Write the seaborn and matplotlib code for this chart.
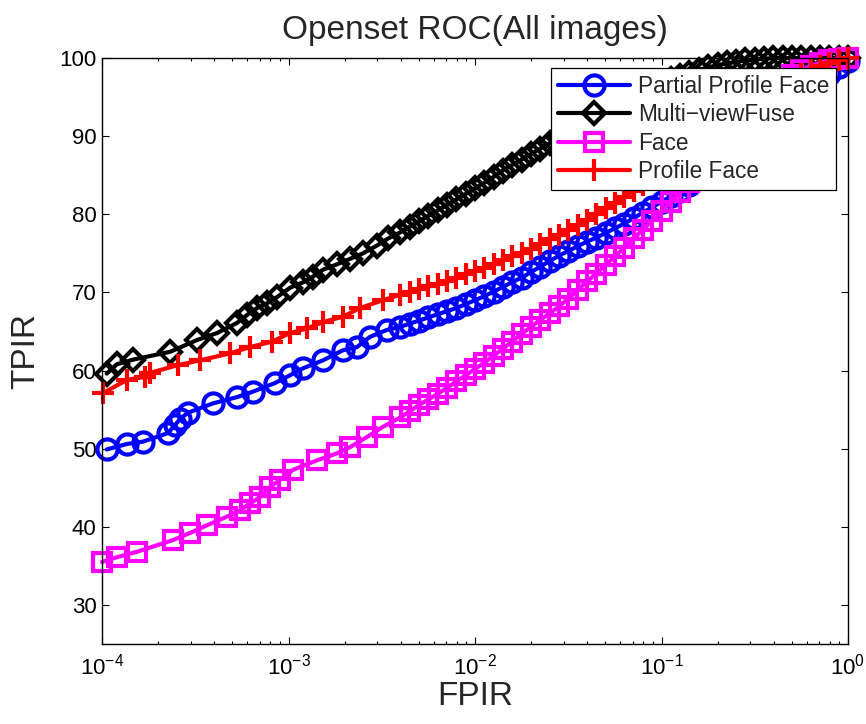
import matplotlib
matplotlib.use("Agg")
import matplotlib.pyplot as plt
import seaborn as sns
import pandas as pd
from matplotlib.ticker import LogLocator, NullFormatter, LogFormatterSciNotation, FixedLocator

# ---------------- data ----------------
series_names = ["Partial Profile Face", "Multi\u2212viewFuse", "Face", "Profile Face"]

# common dense FPIR sampling on the right part of the curves
fpir_grid = [0.00398, 0.00447, 0.00501, 0.00562, 0.00631, 0.00708, 0.00794, 0.00891,
             0.0100, 0.0112, 0.0126, 0.0141, 0.0158, 0.0178, 0.0200, 0.0224, 0.0251,
             0.0282, 0.0316, 0.0355, 0.0398, 0.0447, 0.0501, 0.0562, 0.0631, 0.0708,
             0.0794, 0.0891, 0.100, 0.112, 0.126, 0.141, 0.158, 0.178, 0.200, 0.224,
             0.251, 0.282, 0.316, 0.355, 0.398, 0.447, 0.501, 0.562, 0.631, 0.708,
             0.794, 0.891, 1.000]

# Partial Profile Face (blue, circles)
blue_fpir_low = [1.06e-4, 1.36e-4, 1.66e-4, 2.26e-4, 2.46e-4, 2.62e-4, 2.89e-4, 3.94e-4,
                 5.30e-4, 6.45e-4, 8.47e-4, 1.02e-3, 1.20e-3, 1.53e-3, 1.96e-3, 2.33e-3,
                 2.73e-3, 3.37e-3]
blue_tpir_low = [49.9, 50.6, 50.9, 52.0, 53.0, 53.8, 54.6, 55.8, 56.6, 57.3, 58.4, 59.4,
                 60.3, 61.3, 62.6, 63.0, 64.3, 65.2]
blue_tpir_grid = [65.6, 66.0, 66.4, 66.8, 67.2, 67.6, 68.0, 68.5, 69.0, 69.5,
                  70.1, 70.7, 71.3, 71.9, 72.6, 73.3, 74.0, 74.7, 75.3, 75.9,
                  76.5, 77.0, 77.6, 78.2, 78.8, 79.5, 80.2, 80.9, 81.6, 82.3,
                  83.0, 83.8, 84.6, 85.4, 86.3, 87.2, 88.1, 89.1, 90.1, 91.1,
                  92.1, 93.1, 94.1, 95.1, 96.1, 97.0, 97.9, 98.8, 99.6]

# Multi-viewFuse (black, diamonds)
black_fpir_low = [1.06e-4, 1.20e-4, 1.47e-4, 2.32e-4, 3.23e-4, 4.14e-4, 5.30e-4, 5.99e-4,
                  6.78e-4, 7.67e-4, 8.68e-4, 1.02e-3, 1.20e-3, 1.35e-3, 1.53e-3, 1.82e-3,
                  2.14e-3, 2.51e-3, 2.98e-3, 3.42e-3]
black_tpir_low = [59.6, 60.8, 61.4, 62.4, 63.9, 64.8, 66.1, 67.1, 68.0, 68.6, 69.4, 70.6,
                  71.3, 72.0, 72.9, 73.6, 74.3, 75.0, 76.0, 76.9]
black_tpir_grid = [77.7, 78.4, 79.1, 79.8, 80.5, 81.2, 81.9, 82.6, 83.3, 84.0,
                   84.8, 85.6, 86.3, 87.0, 87.7, 88.4, 89.1, 89.8, 90.5, 91.2,
                   91.9, 92.6, 93.3, 93.9, 94.5, 95.1, 95.7, 96.3, 96.8, 97.3,
                   97.7, 98.1, 98.5, 98.8, 99.1, 99.3, 99.5, 99.7, 99.8, 99.9,
                   100.0, 100.0, 100.0, 100.0, 100.0, 100.0, 100.0, 100.0, 100.0]

# Face (magenta, squares)
mag_fpir_low = [1.00e-4, 1.20e-4, 1.54e-4, 2.40e-4, 2.96e-4, 3.66e-4, 4.68e-4, 5.49e-4,
                6.22e-4, 7.04e-4, 7.96e-4, 9.00e-4, 1.06e-3, 1.42e-3, 1.82e-3, 2.14e-3,
                2.64e-3, 3.21e-3]
mag_tpir_low = [35.5, 36.1, 36.8, 38.3, 39.2, 40.2, 41.3, 42.1, 43.0, 43.8, 45.1, 46.0,
                47.3, 48.5, 49.4, 50.2, 51.5, 52.8]
mag_tpir_grid = [54.0, 54.8, 55.6, 56.3, 57.0, 57.8, 58.6, 59.4, 60.2, 61.0,
                 61.9, 62.8, 63.7, 64.7, 65.6, 66.5, 67.3, 68.2, 69.2, 70.3,
                 71.4, 72.4, 73.5, 74.6, 75.7, 76.9, 78.0, 79.2, 80.4, 81.6,
                 82.8, 84.1, 85.4, 86.7, 88.0, 89.4, 90.8, 92.2, 93.5, 94.8,
                 96.0, 97.0, 97.8, 98.5, 99.0, 99.4, 99.7, 99.9, 100.0]

# Profile Face (red, plus)
red_fpir_low = [1.01e-4, 1.36e-4, 1.70e-4, 1.81e-4, 2.56e-4, 3.35e-4, 4.86e-4, 6.22e-4,
                8.16e-4, 1.02e-3, 1.26e-3, 1.53e-3, 1.96e-3, 2.42e-3, 3.21e-3]
red_tpir_low = [57.1, 58.8, 59.2, 59.7, 60.7, 61.3, 62.2, 63.0, 63.7, 64.8, 65.4, 66.2,
                66.9, 68.0, 69.0]
red_tpir_grid = [69.7, 70.1, 70.4, 70.8, 71.1, 71.5, 71.9, 72.3, 72.7, 73.1,
                 73.6, 74.1, 74.6, 75.1, 75.6, 76.2, 76.8, 77.4, 78.0, 78.6,
                 79.3, 80.0, 80.8, 81.5, 82.2, 83.0, 83.8, 84.6, 85.4, 86.2,
                 87.0, 87.9, 88.8, 89.7, 90.6, 91.5, 92.4, 93.3, 94.2, 95.0,
                 95.8, 96.6, 97.3, 97.9, 98.5, 99.0, 99.4, 99.7, 100.0]

x_ticks = [1e-4, 1e-3, 1e-2, 1e-1, 1e0]
y_ticks = [30, 40, 50, 60, 70, 80, 90, 100]

# ---------------- styling ----------------
sns.set_style("ticks", rc={
    "xtick.direction": "in", "ytick.direction": "in",
    "axes.edgecolor": "black", "axes.linewidth": 1.0,
    "xtick.color": "black", "ytick.color": "black",
})
plt.rcParams["font.family"] = ["Liberation Sans", "DejaVu Sans"]
plt.rcParams["mathtext.fontset"] = "custom"
plt.rcParams["mathtext.rm"] = "Liberation Sans"
plt.rcParams["mathtext.it"] = "Liberation Sans:italic"
plt.rcParams["mathtext.bf"] = "Liberation Sans:bold"

frames = []
specs = [
    (series_names[0], blue_fpir_low + fpir_grid, blue_tpir_low + blue_tpir_grid),
    (series_names[1], black_fpir_low + fpir_grid, black_tpir_low + black_tpir_grid),
    (series_names[2], mag_fpir_low + fpir_grid, mag_tpir_low + mag_tpir_grid),
    (series_names[3], red_fpir_low + fpir_grid, red_tpir_low + red_tpir_grid),
]
for name, xs, ys in specs:
    frames.append(pd.DataFrame({"FPIR": xs, "TPIR": ys, "method": name}))
df = pd.concat(frames, ignore_index=True)

style = {
    series_names[0]: dict(color="#0000ff", marker="o", ms=14.5),
    series_names[1]: dict(color="#000000", marker="D", ms=11.5),
    series_names[2]: dict(color="#ff00ff", marker="s", ms=12.5),
    series_names[3]: dict(color="#ff0000", marker="+", ms=16),
}

fig = plt.figure(figsize=(8.66, 7.24), dpi=100)
ax = fig.add_axes([102 / 866, 80 / 724, 746 / 866, 586 / 724])

for name in series_names:
    st = style[name]
    sub = df[df["method"] == name]
    sns.lineplot(data=sub, x="FPIR", y="TPIR", ax=ax, sort=False, estimator=None,
                 color=st["color"], linewidth=3.0, marker=st["marker"],
                 markersize=st["ms"], markerfacecolor="none",
                 markeredgecolor=st["color"], markeredgewidth=3.0,
                 label=name, clip_on=False)

for ln in ax.lines:
    ln.set_markerfacecolor("none")
    ln.set_clip_on(False)

ax.set_xscale("log")
ax.set_xlim(1e-4, 1.0)
ax.set_ylim(25, 100)
ax.xaxis.set_major_locator(FixedLocator(x_ticks))
ax.xaxis.set_major_formatter(LogFormatterSciNotation())
ax.xaxis.set_minor_locator(LogLocator(base=10, subs=range(2, 10), numticks=20))
ax.xaxis.set_minor_formatter(NullFormatter())
ax.set_yticks(y_ticks)

for s in ax.spines.values():
    s.set_visible(True)
    s.set_linewidth(1.0)
    s.set_color("black")
ax.tick_params(which="both", direction="in", top=True, right=True,
               labelsize=16, width=0.8)
ax.tick_params(which="major", length=5)
ax.tick_params(which="minor", length=2.5)
ax.tick_params(axis="y", pad=4)
ax.tick_params(axis="x", pad=7)

ax.set_title("Openset ROC(All images)", fontsize=24, pad=14)
ax.set_xlabel("FPIR", fontsize=24, labelpad=1)
ax.set_ylabel("TPIR", fontsize=24, labelpad=13)

handles = ax.lines[:4]
leg = ax.legend(handles, series_names, loc="upper right", bbox_to_anchor=(0.984, 0.983),
                borderaxespad=0, fontsize=16.3, frameon=True, fancybox=False,
                edgecolor="black", framealpha=1, handlelength=3.2,
                handletextpad=0.35, labelspacing=0.24, borderpad=0.3)
leg.get_frame().set_linewidth(0.9)
leg.set_zorder(10)

fig.savefig("out.png", dpi=100)
